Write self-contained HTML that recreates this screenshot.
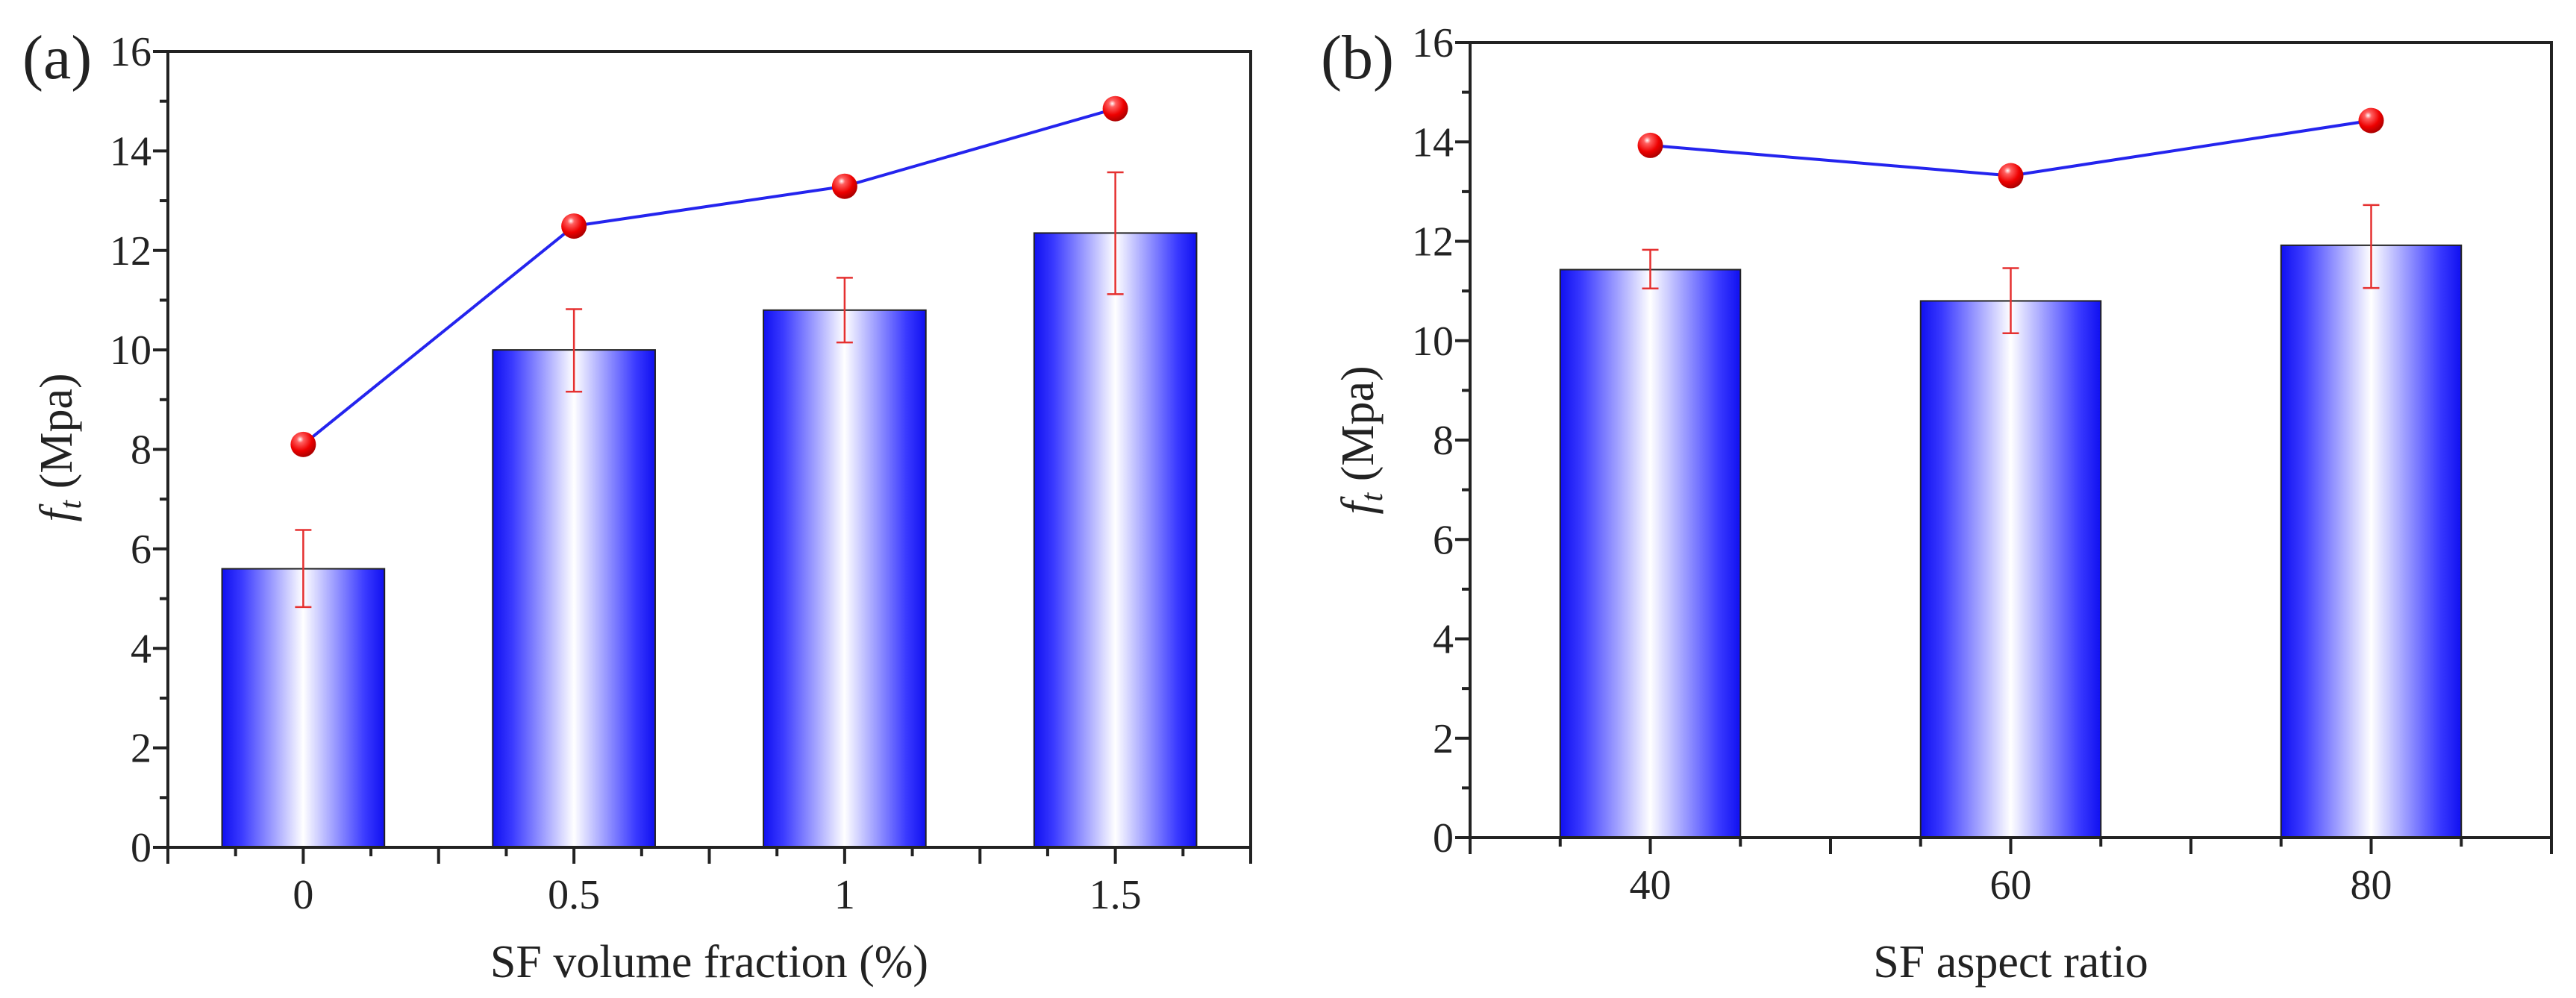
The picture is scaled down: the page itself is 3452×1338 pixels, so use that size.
<!DOCTYPE html>
<html><head><meta charset="utf-8"><style>
html,body{margin:0;padding:0;background:#fff}
svg{display:block;font-family:"Liberation Serif",serif}
</style></head><body>
<svg id="chart" width="3452" height="1338" viewBox="0 0 3452 1338" xmlns="http://www.w3.org/2000/svg">
<defs>
<linearGradient id="barGrad" x1="0" x2="1" y1="0" y2="0">
<stop offset="0" stop-color="#1010f0"/><stop offset="0.12" stop-color="#3a3aff"/>
<stop offset="0.5" stop-color="#ffffff"/><stop offset="0.88" stop-color="#3a3aff"/><stop offset="1" stop-color="#1010f0"/>
</linearGradient>
<radialGradient id="ballGrad" cx="0.38" cy="0.3" r="0.75">
<stop offset="0" stop-color="#ffffff"/><stop offset="0.18" stop-color="#ff6060"/><stop offset="0.6" stop-color="#ee0000"/><stop offset="1" stop-color="#a00000"/>
</radialGradient>
</defs>
</svg>
<script>
const catsA = ["0","0.5","1","1.5"];
const barsA = [5.6, 10.0, 10.8, 12.35];
const errHiA = [6.38, 10.82, 11.45, 13.57];
const errLoA = [4.83, 9.16, 10.15, 11.12];
const ptsA = [8.1, 12.49, 13.29, 14.85];
const catsB = ["40","60","80"];
const barsB = [11.43, 10.8, 11.92];
const errHiB = [11.83, 11.46, 12.73];
const errLoB = [11.05, 10.15, 11.06];
const ptsB = [13.93, 13.32, 14.43];
const yTicks = [0,2,4,6,8,10,12,14,16];

const svg = document.getElementById('chart');
const NS = 'http://www.w3.org/2000/svg';
function mk(tag, attrs, parent){const e=document.createElementNS(NS,tag);for(const k in attrs)e.setAttribute(k,attrs[k]);(parent||svg).appendChild(e);return e;}

function panel(p){
  const g = mk('g',{});
  
  
  const n = p.cats.length;
  const xs = v => p.L + (v+0.5)/n*(p.R-p.L);
  const ys = v => p.B - v/16*(p.B-p.T);
  // bars
  p.bars.forEach((v,i)=>{
    const r = mk('rect',{x:xs(i)-p.bw/2*(p.R-p.L)/n,y:ys(v),width:p.bw*(p.R-p.L)/n,height:ys(0)-ys(v),fill:'url(#barGrad)',stroke:'#222',"stroke-width":2},g);
    
    
  });
  // error bars
  p.cats.forEach((c,i)=>{
    const eg = mk('g',{stroke:'#e53030',"stroke-width":2.5,fill:'none'},g);
    
    
    const x = xs(i);
    mk('line',{x1:x,x2:x,y1:ys(p.hi[i]),y2:ys(p.lo[i])},eg);
    mk('line',{x1:x-11,x2:x+11,y1:ys(p.hi[i]),y2:ys(p.hi[i])},eg);
    mk('line',{x1:x-11,x2:x+11,y1:ys(p.lo[i]),y2:ys(p.lo[i])},eg);
  });
  // line
  const pl = mk('polyline',{points:p.pts.map((v,i)=>xs(i)+','+ys(v)).join(' '),fill:'none',stroke:'#2424ee',"stroke-width":4},g);
  
  
  p.pts.forEach((v,i)=>{
    const c = mk('circle',{cx:xs(i),cy:ys(v),r:17,fill:'url(#ballGrad)'},g);
    
    
  });
  // frame
  const fr = mk('rect',{x:p.L,y:p.T,width:p.R-p.L,height:p.B-p.T,fill:'none',stroke:'#222',"stroke-width":4},g);
  
  
  // y ticks
  for(let v=0; v<=16; v+=1){
    const major = v%2===0;
    mk('line',{x1:p.L-(major?20:11),x2:p.L,y1:ys(v),y2:ys(v),stroke:'#222',"stroke-width":4},g);
  }
  yTicks.forEach(v=>{
    const t = mk('text',{x:p.L-22,y:ys(v)+19,"text-anchor":"end","font-size":56,fill:'#222'},g);
    t.textContent = v;
    
    
  });
  // x ticks
  for(let k=0; k<=n*4; k++){
    const u = -0.5 + k*0.25;
    const major = k%2===0;
    mk('line',{x1:xs(u),x2:xs(u),y1:p.B,y2:p.B+(major?22:12),stroke:'#222',"stroke-width":4},g);
  }
  p.cats.forEach((c,i)=>{
    const t = mk('text',{x:xs(i),y:p.B+82,"text-anchor":"middle","font-size":56,fill:'#222'},g);
    t.textContent = c;
    
    
  });
  const xt = mk('text',{x:(p.L+p.R)/2,y:1310,"text-anchor":"middle","font-size":62,fill:'#222'},g);
  xt.textContent = p.xtitle;
  
  
  const yt = mk('text',{transform:`translate(${p.ytx},${p.yty}) rotate(-90)`,"text-anchor":"middle","font-size":62,fill:'#222'},g);
  yt.innerHTML = '<tspan font-style="italic">f</tspan><tspan font-style="italic" font-size="42" dy="12">t</tspan><tspan dy="-12"> (Mpa)</tspan>';
  
  
  const lb = mk('text',{x:p.lx,y:105,"font-size":84,fill:'#222'},g);
  lb.textContent = '('+p.id+')';
  
  
}
panel({id:'a',cats:catsA,bars:barsA,hi:errHiA,lo:errLoA,pts:ptsA,L:225,R:1676,T:69,B:1136,bw:0.6,xtitle:'SF volume fraction (%)',ytx:96,yty:600,lx:30});
panel({id:'b',cats:catsB,bars:barsB,hi:errHiB,lo:errLoB,pts:ptsB,L:1970,R:3419,T:57,B:1123,bw:0.5,xtitle:'SF aspect ratio',ytx:1840,yty:590,lx:1770});
</script>
</body></html>
